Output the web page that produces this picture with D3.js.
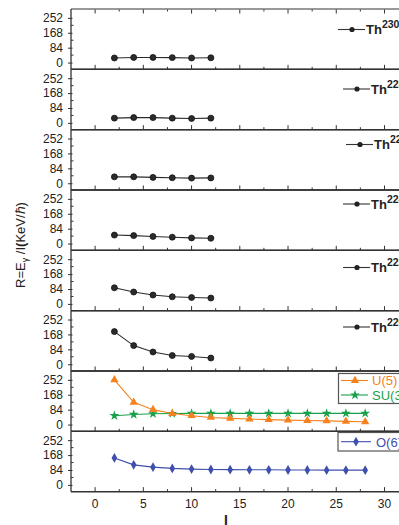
<!DOCTYPE html>
<html><head><meta charset="utf-8">
<script src="https://cdn.jsdelivr.net/npm/d3@7"></script>
<style>body{margin:0;background:#fff;}svg{display:block;font-family:"Liberation Sans",Arial,sans-serif;}</style>
</head><body>
<script>
// ---- data ----
const spinsShort = [2,4,6,8,10,12];
const spinsLong = [2,4,6,8,10,12,14,16,18,20,22,24,26,28];
const nuclei = ["230","228","226","224","222","220"];
const th230 = [26,29,29,28,26,27];
const th228 = [27,30,30,27,25,27];
const th226 = [36,36,33,31,29,30];
const th224 = [48,45,40,36,32,30];
const th222 = [91,67,50,40,36,33];
const th220 = [184,105,69,49,44,35];
const u5  = [252,125,84,62,50,40,35,31,28,25,23,21,18,16];
const su3 = [50,57,61,62,63,63,63,63,63,63,63,63,63,63];
const o6  = [152,113,100,93,89,87,86,85,85,84,84,83,83,83];
const yTicks = [0,84,168,252];
const xTicks = [0,5,10,15,20,25,30];

const W=399,H=525;
const svg=d3.select("body").append("svg").attr("width",W).attr("height",H);
const left=71, right=408.6, top0=9, ph=60.33;
const x=d3.scaleLinear().domain([-2.5,32.5]).range([left,right]);

const thSeries=[th230,th228,th226,th224,th222,th220];
const legX=[338,343,346,343,343,343];
const legY=[29.5,89,144.5,204,267.5,327];

function panel(i){
  const t=top0+i*ph, b=t+ph;
  const y=d3.scaleLinear().domain([-38,302]).range([b,t]);
  const g=svg.append("g");
  const ya=g.append("g").attr("transform",`translate(${left},0)`)
    .call(d3.axisLeft(y).tickValues(yTicks).tickSize(3).tickPadding(5));
  ya.select(".domain").remove();
  ya.selectAll("text").attr("font-size",12).attr("fill","#222").attr("font-family","Liberation Sans, Arial");
  ya.selectAll("line").attr("stroke","#333").attr("x2",-3).attr("x1",1.5);
  g.selectAll(".ymin").data([42,126,210]).join("line")
    .attr("x1",left).attr("x2",left+2.5).attr("y1",d=>y(d)).attr("y2",d=>y(d))
    .attr("stroke","#333");
  const minor=d3.range(-2.5,33,2.5).filter(v=>v>-2.5);
  g.selectAll(".xt").data(minor).join("line")
    .attr("x1",d=>x(d)).attr("x2",d=>x(d)).attr("y1",b)
    .attr("y2",d=>b-(d%5===0?4.5:2.5)).attr("stroke","#333");
  if(i===0){
    g.selectAll(".xtt").data(minor).join("line")
      .attr("x1",d=>x(d)).attr("x2",d=>x(d)).attr("y1",t)
      .attr("y2",d=>t+(d%5===0?4.5:2.5)).attr("stroke","#333");
  }
  g.append("line").attr("x1",left).attr("x2",right).attr("y1",t).attr("y2",t)
    .attr("stroke",i===0?"#777":"#333").attr("stroke-width",1.3);
  g.append("line").attr("x1",left).attr("x2",right).attr("y1",b).attr("y2",b)
    .attr("stroke","#333").attr("stroke-width",1.5);
  g.append("line").attr("x1",left).attr("x2",left).attr("y1",t).attr("y2",b)
    .attr("stroke","#333").attr("stroke-width",1.3);
  return {g,y,t,b};
}

function drawSeries(p,xs,vals,color,shape,size){
  const line=d3.line().x((d,k)=>x(xs[k])).y(d=>p.y(d));
  p.g.append("path").datum(vals).attr("d",line).attr("fill","none")
    .attr("stroke",color).attr("stroke-width",1.1);
  p.g.selectAll(null).data(vals).join("path")
    .attr("d",d3.symbol().type(shape).size(size))
    .attr("transform",(d,k)=>`translate(${x(xs[k])},${p.y(d)})`)
    .attr("fill",color).attr("stroke",shape===d3.symbolCircle?"#111":"none").attr("stroke-width",0.8);
}

for(let i=0;i<6;i++){
  const p=panel(i);
  drawSeries(p,spinsShort,thSeries[i],"#2b2b2b",d3.symbolCircle,28);
  const lx=legX[i], ly=legY[i];
  p.g.append("line").attr("x1",lx).attr("x2",lx+27).attr("y1",ly).attr("y2",ly).attr("stroke","#333").attr("stroke-width",1.1);
  p.g.append("circle").attr("cx",lx+14).attr("cy",ly).attr("r",2.6).attr("fill","#222");
  const tx=p.g.append("text").attr("x",lx+28).attr("y",ly+4.5).attr("font-size",13).attr("font-weight","bold").attr("fill","#222");
  tx.append("tspan").text("Th");
  tx.append("tspan").attr("dy",-6).attr("font-size",10.5).text(nuclei[i]);
}

const orange="#f5821f", green="#19a04b", blue="#3f4fae";
const p7=panel(6);
drawSeries(p7,spinsLong,su3,green,d3.symbolStar,30);
drawSeries(p7,spinsLong,u5,orange,d3.symbolTriangle,30);
p7.g.append("rect").attr("x",338.5).attr("y",373.5).attr("width",80).attr("height",30)
  .attr("fill","#fff").attr("stroke","#555").attr("stroke-width",1.2);
[[u5,"U(5)",orange,d3.symbolTriangle,380.5],[su3,"SU(3)",green,d3.symbolStar,395]].forEach(([v,lab,c,s,ly])=>{
  p7.g.append("line").attr("x1",341).attr("x2",368).attr("y1",ly).attr("y2",ly).attr("stroke",c).attr("stroke-width",1.1);
  p7.g.append("path").attr("d",d3.symbol().type(s).size(30)).attr("transform",`translate(355,${ly})`).attr("fill",c);
  p7.g.append("text").attr("x",372).attr("y",ly+4.5).attr("font-size",13).attr("fill",c).text(lab);
});

const p8=panel(7);
drawSeries(p8,spinsLong,o6,blue,d3.symbolDiamond,28);
p8.g.append("rect").attr("x",338).attr("y",432.5).attr("width",80).attr("height",18.5)
  .attr("fill","#fff").attr("stroke","#555").attr("stroke-width",1.2);
p8.g.append("line").attr("x1",341).attr("x2",371).attr("y1",441.7).attr("y2",441.7).attr("stroke",blue).attr("stroke-width",1.1);
p8.g.append("path").attr("d",d3.symbol().type(d3.symbolDiamond).size(28)).attr("transform","translate(356,441.7)").attr("fill",blue);
p8.g.append("text").attr("x",376).attr("y",446.5).attr("font-size",13).attr("fill",blue).text("O(6)");

svg.append("g").selectAll("text").data(xTicks).join("text")
  .attr("x",d=>x(d)).attr("y",507.5).attr("text-anchor","middle").attr("font-size",12).attr("fill","#222").text(d=>d);
svg.append("text").attr("x",226).attr("y",525).attr("text-anchor","middle")
  .attr("font-size",14).attr("font-weight","bold").attr("fill","#222").text("I");

const yl=svg.append("text").attr("transform","translate(25,245) rotate(-90)")
  .attr("text-anchor","middle").attr("font-size",13).attr("fill","#222");
yl.append("tspan").text("R=E");
yl.append("tspan").attr("dy",3).attr("font-size",9).text("γ");
yl.append("tspan").attr("dy",-3).text(" /I");
yl.append("tspan").attr("font-weight","bold").text("(");
yl.append("tspan").text("KeV/ℏ)");
</script>
</body></html>
